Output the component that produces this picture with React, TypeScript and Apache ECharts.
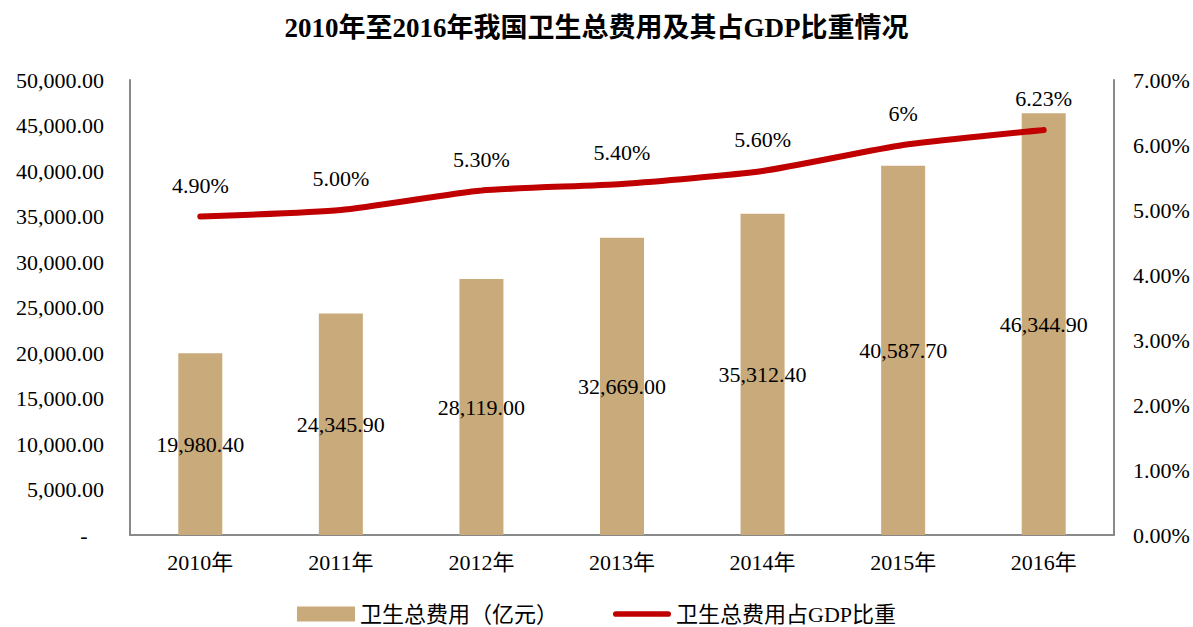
import React, { useEffect, useRef } from "react";
import * as echarts from "echarts";

const categories = ["2010年", "2011年", "2012年", "2013年", "2014年", "2015年", "2016年"];
const totalCost = [19980.4, 24345.9, 28119.0, 32669.0, 35312.4, 40587.7, 46344.9];
const gdpShare = [4.9, 5.0, 5.3, 5.4, 5.6, 6.0, 6.23];
const gdpShareLabels = ["4.90%", "5.00%", "5.30%", "5.40%", "5.60%", "6%", "6.23%"];
const barName = "卫生总费用（亿元）";
const lineName = "卫生总费用占GDP比重";
const titleText = "2010年至2016年我国卫生总费用及其占GDP比重情况";

const FONT = "'Liberation Serif', 'Times New Roman', 'Noto Sans CJK SC', serif";
const LINE_ICON = "path://M3,0 L59,0 A3,3 0 0 1 59,6 L3,6 A3,3 0 0 1 3,0 Z";

export default function App() {
  const ref = useRef<HTMLDivElement>(null);
  useEffect(() => {
    document.body.style.margin = "0";
    const chart = echarts.init(ref.current!, null, { renderer: "svg" });
    const axisLine = { show: true, lineStyle: { color: "#898989", width: 2 } };
    chart.setOption({
      animation: false,
      textStyle: { fontFamily: FONT },
      title: {
        text: titleText,
        left: "center",
        top: 9,
        textStyle: { fontFamily: FONT, fontSize: 27, fontWeight: "bold", color: "#000" },
      },
      legend: {
        top: 598,
        left: "center",
        itemGap: 55,
        itemWidth: 58,
        itemHeight: 15,
        textStyle: { fontFamily: FONT, fontSize: 22, color: "#000" },
        data: [
          { name: barName, icon: "rect" },
          { name: lineName, icon: LINE_ICON, itemStyle: { color: "#C00000" } },
        ],
      },
      grid: { left: 130, right: 79, top: 80, bottom: 92 },
      xAxis: {
        type: "category",
        data: categories,
        axisLine,
        axisTick: { show: false },
        axisLabel: { fontFamily: FONT, fontSize: 22, color: "#000", margin: 16 },
      },
      yAxis: [
        {
          type: "value",
          min: 0,
          max: 50000,
          interval: 5000,
          axisLine,
          axisTick: { show: false },
          splitLine: { show: false },
          axisLabel: {
            fontFamily: FONT,
            fontSize: 22,
            color: "#000",
            margin: 26,
            formatter: (v: number) =>
              v === 0
                ? "-   "
                : v.toLocaleString("en-US", { minimumFractionDigits: 2, maximumFractionDigits: 2 }),
          },
        },
        {
          type: "value",
          min: 0,
          max: 7,
          interval: 1,
          axisLine,
          axisTick: { show: false },
          splitLine: { show: false },
          axisLabel: {
            fontFamily: FONT,
            fontSize: 22,
            color: "#000",
            margin: 19,
            formatter: (v: number) => v.toFixed(2) + "%",
          },
        },
      ],
      series: [
        {
          name: barName,
          type: "bar",
          data: totalCost,
          barWidth: 44,
          itemStyle: { color: "#C9AA7A" },
          label: {
            show: true,
            position: "inside",
            fontFamily: FONT,
            fontSize: 22,
            color: "#000",
            formatter: (p: any) =>
              (p.value as number).toLocaleString("en-US", { minimumFractionDigits: 2, maximumFractionDigits: 2 }),
          },
        },
        {
          name: lineName,
          type: "line",
          yAxisIndex: 1,
          data: gdpShare,
          smooth: 0.2,
          symbol: "circle",
          symbolSize: 1,
          showSymbol: true,
          lineStyle: { color: "#C00000", width: 6, cap: "round" },
          itemStyle: { color: "#C00000" },
          label: {
            show: true,
            position: "top",
            distance: 20,
            fontFamily: FONT,
            fontSize: 22,
            color: "#000",
            formatter: (p: any) => gdpShareLabels[p.dataIndex],
          },
        },
      ],
    });
    return () => chart.dispose();
  }, []);
  return <div ref={ref} style={{ width: 1193, height: 627 }} />;
}
